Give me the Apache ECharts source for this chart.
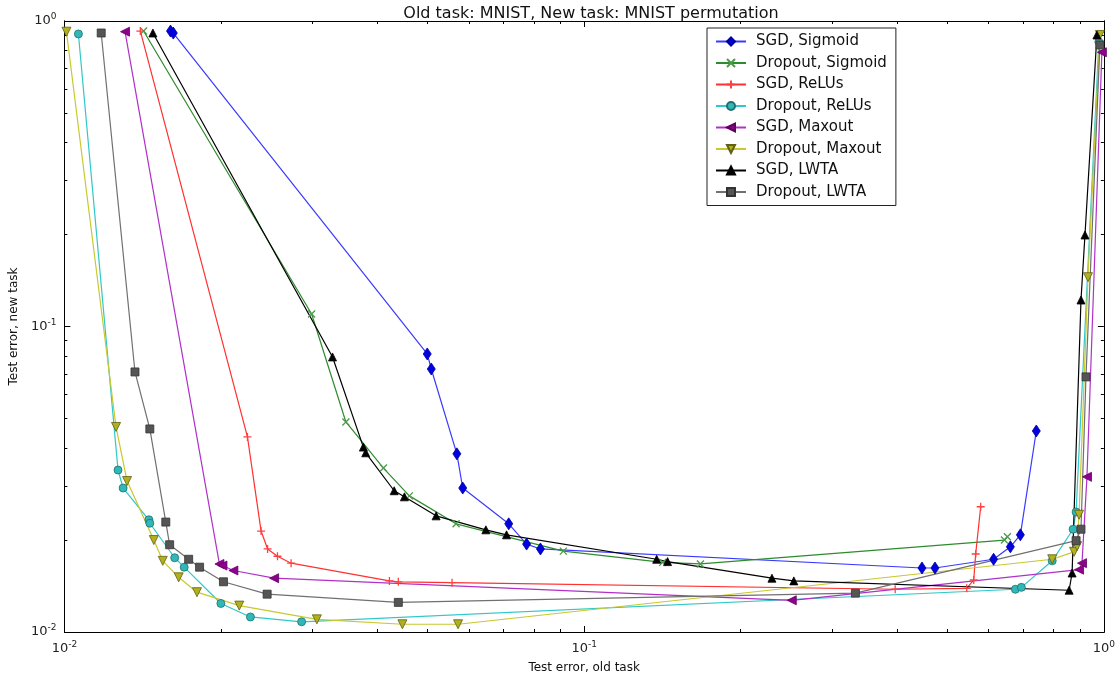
<!DOCTYPE html>
<html>
<head>
<meta charset="utf-8">
<style>
  html, body { margin: 0; padding: 0; background: #fff; }
  #chart { width: 1118px; height: 684px; }
</style>
<script src="https://cdn.jsdelivr.net/npm/echarts@6/dist/echarts.min.js"></script>
</head>
<body>
<div id="chart"></div>
<script>
// ---- data (x = test error old task, y = test error new task) ----
const sgdSigmoid = [[0.0160,0.927],[0.0162,0.913],[0.0499,0.0813],[0.0508,0.0726],[0.0569,0.0383],[0.0584,0.0296],[0.0716,0.0226],[0.0775,0.0194],[0.0824,0.0187],[0.4467,0.0162],[0.4732,0.0162],[0.6135,0.0173],[0.6609,0.0190],[0.6908,0.0208],[0.7413,0.0455]];
const dropoutSigmoid = [[0.0142,0.927],[0.0299,0.1099],[0.0348,0.0487],[0.0411,0.0344],[0.0461,0.0279],[0.0567,0.0226],[0.0912,0.0184],[0.1416,0.0169],[0.1674,0.0167],[0.6437,0.0200],[0.6522,0.0205]];
const sgdRelu = [[0.0140,0.927],[0.0225,0.0435],[0.0239,0.0214],[0.0246,0.0187],[0.0257,0.0177],[0.0273,0.0168],[0.0422,0.0147],[0.0439,0.0146],[0.0557,0.0145],[0.3967,0.0138],[0.5447,0.0139],[0.5618,0.0148],[0.5667,0.0180],[0.5794,0.0257]];
const dropoutRelu = [[0.01064,0.907],[0.01268,0.0339],[0.01297,0.0296],[0.01454,0.0233],[0.0146,0.0227],[0.0163,0.0175],[0.0170,0.0163],[0.0200,0.0124],[0.0228,0.0112],[0.0286,0.0108],[0.6757,0.0138],[0.6938,0.0140],[0.7955,0.0171],[0.8726,0.0217],[0.8842,0.0247],[0.978,0.854]];
const sgdMaxout = [[0.01308,0.9225],[0.01987,0.0167],[0.02014,0.0165],[0.02114,0.0159],[0.02532,0.0150],[0.2509,0.0127],[0.8959,0.0160],[0.9076,0.0168],[0.9279,0.0322],[0.9912,0.79]];
const dropoutMaxout = [[0.01009,0.9225],[0.01257,0.0469],[0.0132,0.0312],[0.01486,0.0200],[0.01546,0.0171],[0.01659,0.0151],[0.01799,0.0135],[0.0217,0.0122],[0.0306,0.0110],[0.0447,0.0106],[0.0572,0.0106],[0.7955,0.0173],[0.8764,0.0183],[0.8881,0.0191],[0.8959,0.0242],[0.932,0.145],[0.9826,0.90]];
const sgdLwta = [[0.0148,0.9136],[0.0328,0.0795],[0.0376,0.0403],[0.0380,0.0386],[0.0431,0.0290],[0.0451,0.0277],[0.0519,0.0240],[0.0647,0.0216],[0.0709,0.0208],[0.1379,0.0173],[0.1447,0.0170],[0.2298,0.0150],[0.2532,0.0147],[0.8573,0.0137],[0.8687,0.0156],[0.9036,0.1221],[0.9197,0.1993],[0.9697,0.90]];
const dropoutLwta = [[0.01177,0.9136],[0.01367,0.0710],[0.0146,0.0462],[0.01567,0.0229],[0.01594,0.0193],[0.01734,0.0173],[0.0182,0.0163],[0.02023,0.0146],[0.02455,0.0133],[0.0439,0.0125],[0.3326,0.0134],[0.8842,0.0199],[0.9036,0.0217],[0.9238,0.0684],[0.9826,0.835]];

const majorTicks = [0.01, 0.1, 1];
const minorTicks = [0.02,0.03,0.04,0.05,0.06,0.07,0.08,0.09,0.2,0.3,0.4,0.5,0.6,0.7,0.8,0.9];
const tickLabels = {0.01: '-2', 0.1: '-1', 1: '0'};

const seriesNames = ['SGD, Sigmoid','Dropout, Sigmoid','SGD, ReLUs','Dropout, ReLUs','SGD, Maxout','Dropout, Maxout','SGD, LWTA','Dropout, LWTA'];
const seriesData = [sgdSigmoid, dropoutSigmoid, sgdRelu, dropoutRelu, sgdMaxout, dropoutMaxout, sgdLwta, dropoutLwta];

const styles = [
  {line:'#3a3aff', fill:'#0000e0', border:'#0000a0', symbol:'diamond', size:[8,12], rotate:0},
  {line:'#2e8b2e', fill:'none', border:'#4a9a4a', symbol:'path://M0,0L10,10M10,0L0,10', size:7, rotate:0},
  {line:'#ff3030', fill:'none', border:'#ff4040', symbol:'path://M5,0L5,10M0,5L10,5', size:8, rotate:0},
  {line:'#30c8c8', fill:'#30b8b8', border:'#207070', symbol:'circle', size:8, rotate:0},
  {line:'#b030c8', fill:'#900090', border:'#600060', symbol:'triangle', size:9, rotate:90},
  {line:'#c8c830', fill:'#b0b020', border:'#606010', symbol:'triangle', size:9, rotate:180},
  {line:'#000000', fill:'#000000', border:'#000000', symbol:'triangle', size:8, rotate:0},
  {line:'#707070', fill:'#555555', border:'#333333', symbol:'rect', size:8, rotate:0}
];

const FONT = 'DejaVu Sans';
const rich = {
  b: {fontFamily: FONT, fontSize: 13, color: '#222'},
  s: {fontFamily: FONT, fontSize: 9, color: '#222', verticalAlign: 'top', padding: [0,0,8,0]}
};
function fmt(v) {
  const key = Object.keys(tickLabels).find(k => Math.abs(Number(k) - v) < 1e-9);
  return key === undefined ? '' : '{b|10}{s|' + tickLabels[key] + '}';
}

function mkAxis(dim, pos, major, withLabel, name) {
  const ax = {
    type: 'log', logBase: 10, min: 0.01, max: 1, position: pos,
    axisLine: {show: true, onZero: false, lineStyle: {color: '#000', width: 1}},
    splitLine: {show: false},
    axisTick: {show: true, inside: true, length: major ? 6 : 3, customValues: major ? majorTicks : minorTicks,
               lineStyle: {color: '#000', width: 1}},
    axisLabel: {show: withLabel, customValues: majorTicks, formatter: fmt, rich: rich, margin: 8},
  };
  if (name) {
    ax.name = name;
    ax.nameLocation = 'middle';
    ax.nameTextStyle = {fontFamily: FONT, fontSize: 12, color: '#111'};
    ax.nameGap = dim === 'x' ? 30 : 43;
  }
  return ax;
}

const chart = echarts.init(document.getElementById('chart'), null, {renderer: 'canvas'});
chart.setOption({
  animation: false,
  backgroundColor: '#fff',
  title: {text: 'Old task: MNIST, New task: MNIST permutation', left: 586, textAlign: 'center', top: 1,
          textStyle: {fontFamily: FONT, fontSize: 16, fontWeight: 'normal', color: '#111'}},
  grid: {left: 63, right: 9, top: 21, bottom: 52, containLabel: false},
  legend: {
    orient: 'vertical', left: 707, top: 28,
    backgroundColor: '#fff', borderColor: '#222', borderWidth: 1,
    padding: [6, 9, 6, 8], itemWidth: 30, itemHeight: 10, itemGap: 6.5,
    textStyle: {fontFamily: FONT, fontSize: 15, color: '#111', padding: [0,0,0,5]},
    data: seriesNames
  },
  xAxis: [
    mkAxis('x', 'bottom', true, true, 'Test error, old task'),
    mkAxis('x', 'bottom', false, false),
    mkAxis('x', 'top', true, false),
    mkAxis('x', 'top', false, false)
  ],
  yAxis: [
    mkAxis('y', 'left', true, true, 'Test error, new task'),
    mkAxis('y', 'left', false, false),
    mkAxis('y', 'right', true, false),
    mkAxis('y', 'right', false, false)
  ],
  series: seriesNames.map((n, i) => ({
    name: n, type: 'line', data: seriesData[i], xAxisIndex: 0, yAxisIndex: 0,
    symbol: styles[i].symbol, symbolSize: styles[i].size, symbolRotate: styles[i].rotate,
    showSymbol: true, showAllSymbol: true, clip: false,
    lineStyle: {color: styles[i].line, width: 1.2},
    itemStyle: {color: styles[i].fill === 'none' ? styles[i].border : styles[i].fill,
                borderColor: styles[i].border, borderWidth: styles[i].fill === 'none' ? 1.3 : 0.8},
    emphasis: {disabled: true}
  }))
});
</script>
</body>
</html>
